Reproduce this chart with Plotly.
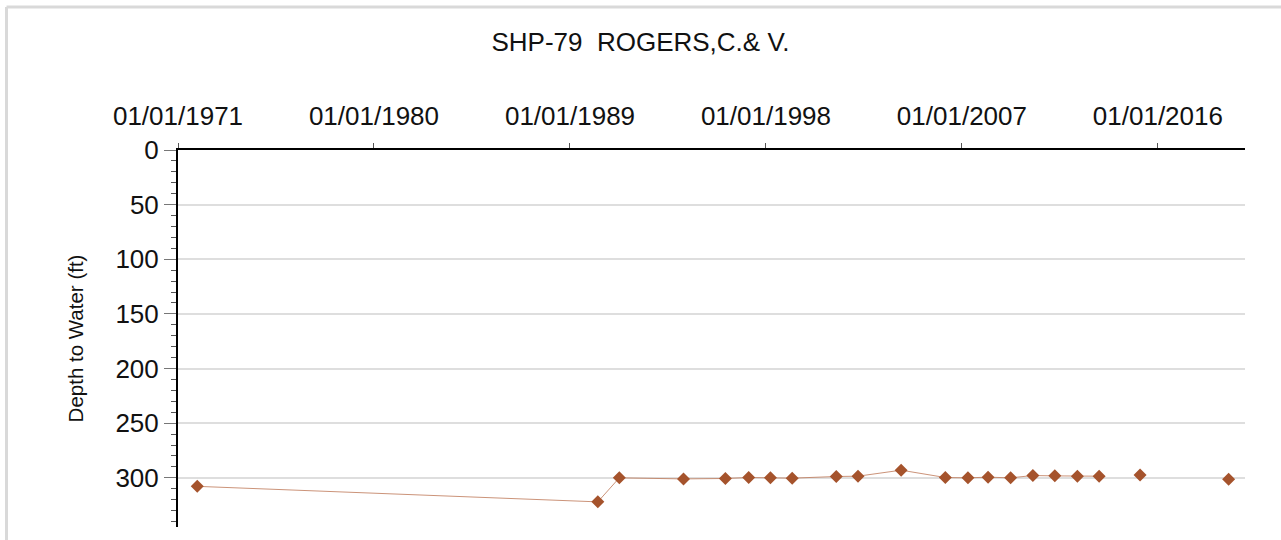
import plotly.graph_objects as go

# Water-level measurements for well SHP-79
dates = [
    "1971-11-20", "1990-04-13", "1991-04-08", "1994-03-20", "1996-02-20",
    "1997-03-17", "1998-03-17", "1999-03-17", "2001-03-25", "2002-03-25",
    "2004-03-17", "2006-03-28", "2007-04-12", "2008-03-14", "2009-03-28",
    "2010-04-05", "2011-04-08", "2012-04-20", "2013-04-20", "2015-03-08",
    "2019-04-01",
]
depths = [
    307.8, 322.0, 300.0, 301.0, 300.6,
    299.7, 300.0, 300.3, 298.8, 298.5,
    293.0, 299.7, 300.0, 299.4, 300.0,
    297.9, 298.2, 298.5, 298.5, 297.3,
    301.3,
]
# True where a reading is joined to the previous one by a line
joined = [
    False, True, True, True, True,
    True, True, True, True, True,
    True, True, True, True, True,
    True, True, True, True, False,
    False,
]

x_ticks = ["1971-01-01", "1980-01-01", "1989-01-01", "1998-01-01", "2007-01-01", "2016-01-01"]
x_tick_text = ["01/01/1971", "01/01/1980", "01/01/1989", "01/01/1998", "01/01/2007", "01/01/2016"]

# Build the connecting line, breaking it where readings are not joined
line_x, line_y = [], []
for d, v, j in zip(dates, depths, joined):
    if not j and line_x:
        line_x.append(None)
        line_y.append(None)
    line_x.append(d)
    line_y.append(v)

FONT = "Liberation Sans, Arial, sans-serif"
MARK = "#A5532C"

fig = go.Figure()
fig.add_trace(go.Scatter(
    x=line_x, y=line_y, mode="lines",
    line=dict(color="rgba(190,120,88,0.8)", width=1),
    connectgaps=False, hoverinfo="skip", showlegend=False,
))
fig.add_trace(go.Scatter(
    x=dates, y=depths, mode="markers",
    marker=dict(symbol="diamond", size=10, color=MARK, line=dict(width=0)),
    showlegend=False,
))

L, R, T, B = 178, 36, 150, 13
W, H = 1281, 540
pw, ph = W - L - R, H - T - B

def px_x(px):
    return (px - L) / pw

def px_y(py):
    return (H - B - py) / ph

# light frame around the chart
fig.add_shape(type="line", xref="paper", yref="paper",
              x0=px_x(6.5), x1=px_x(1300), y0=px_y(7), y1=px_y(7),
              line=dict(color="#d9d9d9", width=3))
fig.add_shape(type="line", xref="paper", yref="paper",
              x0=px_x(6.5), x1=px_x(6.5), y0=px_y(7), y1=px_y(560),
              line=dict(color="#d9d9d9", width=3))

fig.update_layout(
    width=W, height=H,
    margin=dict(l=L, r=R, t=T, b=B),
    paper_bgcolor="white", plot_bgcolor="white",
    font=dict(family=FONT, color="#111111"),
    title=dict(
        text="SHP-79\u00a0\u00a0ROGERS,C.& V.",
        x=0.5, xref="container", xanchor="center",
        y=1 - 42 / H, yref="container", yanchor="middle",
        font=dict(size=26, family=FONT, color="#111111"),
    ),
    xaxis=dict(
        side="top", type="date",
        range=["1971-01-01", "2020-01-01"],
        tickvals=x_ticks, ticktext=x_tick_text,
        showline=True, linecolor="black", linewidth=2,
        ticks="outside", ticklen=5, tickcolor="#555555", tickwidth=1,
        ticklabelstandoff=8,
        tickfont=dict(size=26, family=FONT, color="#111111"),
        showgrid=False, zeroline=False,
    ),
    yaxis=dict(
        range=[345, 0],
        dtick=50, tick0=0,
        showline=True, linecolor="black", linewidth=2,
        ticks="outside", ticklen=12, tickcolor="#777777", tickwidth=1,
        tickfont=dict(size=26, family=FONT, color="#111111"),
        showgrid=True, gridcolor="#dedede", gridwidth=2,
        zeroline=False,
        minor=dict(dtick=10, ticks="outside", ticklen=5, tickcolor="#555555",
                   tickwidth=1, showgrid=False),
        title=dict(text="Depth to Water (ft)", standoff=26,
                   font=dict(size=20.5, family=FONT, color="#111111")),
    ),
)

fig.write_html("out.html")
